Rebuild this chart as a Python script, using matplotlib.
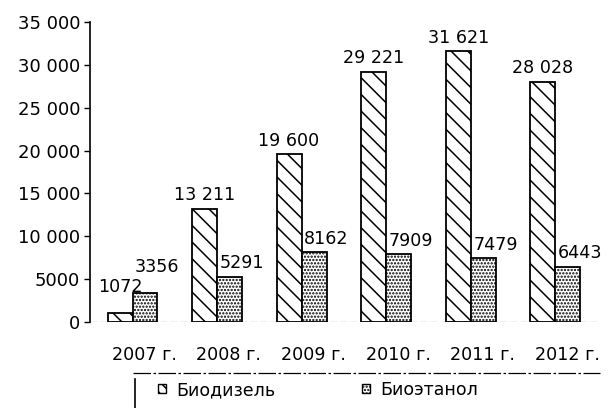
import matplotlib
matplotlib.use("Agg")
import matplotlib.pyplot as plt
from matplotlib.patches import Patch
from matplotlib.lines import Line2D
import numpy as np

years = ["2007 г.", "2008 г.", "2009 г.", "2010 г.", "2011 г.", "2012 г."]
biodiesel = [1072, 13211, 19600, 29221, 31621, 28028]
bioethanol = [3356, 5291, 8162, 7909, 7479, 6443]
yticks = [0, 5000, 10000, 15000, 20000, 25000, 30000, 35000]
ytick_labels = ["0", "5000", "10 000", "15 000", "20 000", "25 000", "30 000", "35 000"]
series_names = ["Биодизель", "Биоэтанол"]

plt.rcParams['font.family'] = ['DejaVu Sans']
plt.rcParams['hatch.linewidth'] = 1.1

def fmt(v):
    return f"{v:,}".replace(",", " ") if v >= 10000 else str(v)

fig = plt.figure(figsize=(6.09, 4.08), dpi=100)
ax = fig.add_axes([90/609, (408-322)/408, (600-90)/609, 300/408])

x = np.arange(len(years))
w = 0.295
ax.bar(x - w/2, biodiesel, w, facecolor='white', edgecolor='black',
       hatch='\\\\', linewidth=1.3)
ax.bar(x + w/2, bioethanol, w, facecolor='white', edgecolor='black',
       hatch='.....', linewidth=1.3)

FS = 12.6
for i, v in enumerate(biodiesel):
    off = 15 if i == 0 else 6
    ax.annotate(fmt(v), (x[i] - w/2, v), xytext=(0, off), textcoords='offset points',
                ha='center', va='baseline', fontsize=FS)
for i, v in enumerate(bioethanol):
    off = 15 if i == 0 else 6
    ax.annotate(fmt(v), (x[i] + 0.03, v), xytext=(0, off), textcoords='offset points',
                ha='left', va='baseline', fontsize=FS)

ax.set_xlim(-0.503, 5.53)
ax.set_ylim(0, 35000)
ax.set_yticks(yticks)
ax.set_yticklabels(ytick_labels, fontsize=13)
ax.set_xticks(x + 0.14)
ax.set_xticklabels(years, fontsize=FS)
ax.tick_params(axis='x', length=0, pad=17)
ax.tick_params(axis='y', length=4, width=1, pad=3, direction='out')
for s in ['top', 'right', 'bottom']:
    ax.spines[s].set_visible(False)
ax.spines['left'].set_linewidth(1.2)
ax.axhline(0, color='black', lw=0.8, ls=(0, (6, 3)))

# legend frame lines
fig.add_artist(Line2D([133/609, 600/609], [1-373/408, 1-373/408], color='black',
                      lw=0.9, ls=(0, (14, 2, 2, 2))))
fig.add_artist(Line2D([135/609, 135/609], [0, 1-379/408], color='black', lw=1.2))

h1 = Patch(facecolor='white', edgecolor='black', hatch='\\\\\\', linewidth=1)
h2 = Patch(facecolor='white', edgecolor='black', hatch='.....', linewidth=1)
common = dict(loc='center left', frameon=False, fontsize=12.5, handlelength=0.45,
              handleheight=0.45, handletextpad=0.6, borderaxespad=0, borderpad=0)
leg1 = fig.legend([h1], [series_names[0]], bbox_to_anchor=(158/609, 1-390/408), **common)
leg2 = fig.legend([h2], [series_names[1]], bbox_to_anchor=(362/609, 1-390/408), **common)

fig.savefig("out.png", dpi=100)
